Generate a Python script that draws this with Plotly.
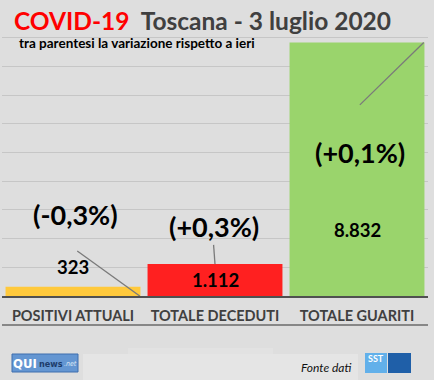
import plotly.graph_objects as go

categories = ["POSITIVI ATTUALI", "TOTALE DECEDUTI", "TOTALE GUARITI"]
values = [323, 1112, 8832]
value_labels = ["323", "1.112", "8.832"]
changes = ["(-0,3%)", "(+0,3%)", "(+0,1%)"]
colors = ["#FFC93C", "#FF2020", "#9AD46C"]

FONT = "Lato"
fig = go.Figure()
fig.add_trace(go.Bar(
    x=list(range(len(categories))), y=values,
    marker=dict(color=colors, line=dict(width=0)),
    width=0.95, hoverinfo="skip", showlegend=False,
))

# value labels (positions relative to the bars)
val_pos = [values[0] + 220, values[1] * 0.5, 2300]
val_anchor = ["bottom", "middle", "middle"]
for i, (lab, yp, ya) in enumerate(zip(value_labels, val_pos, val_anchor)):
    fig.add_annotation(x=i, y=yp, text=f"<b>{lab}</b>", showarrow=False,
                       yanchor=ya, font=dict(family=FONT, size=18.5, color="#000"))

# percent change labels and leader lines
chg_pos = [(0.02, 2830), (0.99, 2410), (2.02, 5000)]
leaders = [((0.03, 1570), (0.47, 0)), ((0.99, 1780), (1.0, values[1])), ((2.02, 6660), (2.47, values[2]))]
for i, (txt, (cx, cy)) in enumerate(zip(changes, chg_pos)):
    fig.add_annotation(x=cx, y=cy, text=f"<b>{txt}</b>", showarrow=False,
                       font=dict(family=FONT, size=27, color="#000"))
for (a, b) in leaders:
    fig.add_shape(type="line", x0=a[0], y0=a[1], x1=b[0], y1=b[1],
                  line=dict(color="#7a7a7a", width=1.3))

def py(pix):
    return (296 - pix) / 287.0

def px(pix):
    return (pix - 2) / 426.0

# titles
fig.add_annotation(xref="paper", yref="paper", x=px(12), y=py(20), xanchor="left", yanchor="middle",
                   text="<b><span style='color:#FF0000'>COVID-19</span>  <span style='color:#404040'>Toscana - 3 luglio 2020</span></b>",
                   showarrow=False, font=dict(family=FONT, size=24.5))
fig.add_annotation(xref="paper", yref="paper", x=px(17), y=py(43), xanchor="left", yanchor="middle",
                   text="<b>tra parentesi la variazione rispetto a ieri</b>",
                   showarrow=False, font=dict(family=FONT, size=13.5, color="#000"))

# line under category labels
fig.add_shape(type="line", xref="paper", yref="paper", x0=0, x1=1, y0=py(325), y1=py(325),
              line=dict(color="#6a6a6a", width=1.5))

# footer decorations
fig.add_shape(type="rect", xref="paper", yref="paper", x0=px(128), x1=px(273),
              y0=py(382), y1=py(348), fillcolor="#e2e2e2", line=dict(width=0), layer="below")
fig.add_shape(type="rect", xref="paper", yref="paper", x0=px(83), x1=px(358),
              y0=py(382), y1=py(354), fillcolor="#e5e5e5", line=dict(width=0), layer="below")
# QUInews logo
fig.add_shape(type="rect", xref="paper", yref="paper", x0=px(12), x1=px(78),
              y0=py(372), y1=py(354), fillcolor="#6496d2", line=dict(color="#3f6fae", width=1))
fig.add_annotation(xref="paper", yref="paper", x=px(12), y=py(363), xanchor="left", yanchor="middle",
                   text="<b>QUI</b>", showarrow=False, borderpad=0,
                   font=dict(family="DejaVu Sans Condensed", size=13, color="#ffffff"))
fig.add_annotation(xref="paper", yref="paper", x=px(38), y=py(364), xanchor="left", yanchor="middle",
                   text="<b>news</b>", showarrow=False, borderpad=0,
                   font=dict(family="DejaVu Sans Condensed", size=9, color="#1d3c6a"))
fig.add_annotation(xref="paper", yref="paper", x=px(63), y=py(364), xanchor="left", yanchor="middle",
                   text="<i>.net</i>", showarrow=False, borderpad=0,
                   font=dict(family="DejaVu Sans Condensed", size=7, color="#dde8f5"))
# Fonte dati
fig.add_annotation(xref="paper", yref="paper", x=px(353), y=py(367), xanchor="right", yanchor="middle",
                   text="<i>Fonte dati</i>", showarrow=False, font=dict(family=FONT, size=12, color="#111"))
# SST logo
fig.add_shape(type="rect", xref="paper", yref="paper", x0=px(365), x1=px(387),
              y0=py(373), y1=py(353), fillcolor="#62b0ea", line=dict(width=0))
fig.add_shape(type="rect", xref="paper", yref="paper", x0=px(388), x1=px(411),
              y0=py(373), y1=py(353), fillcolor="#1f5fa8", line=dict(width=0))
fig.add_annotation(xref="paper", yref="paper", x=px(376), y=py(358), xanchor="center", yanchor="middle",
                   text="<b>SST</b>", showarrow=False, font=dict(family=FONT, size=9, color="#fff"))

fig.update_layout(
    width=434, height=380,
    margin=dict(l=2, r=6, t=9, b=84),
    paper_bgcolor="#dedede", plot_bgcolor="rgba(0,0,0,0)",
    bargap=0.05,
    xaxis=dict(tickmode="array", tickvals=list(range(len(categories))),
               ticktext=[f"<b>{c}</b>" for c in categories],
               range=[-0.5, 2.5], showgrid=False, zeroline=False, showline=True,
               linecolor="#505050", linewidth=2, ticks="", ticklabelstandoff=6,
               tickfont=dict(family=FONT, size=14.5, color="#404040"), fixedrange=True),
    yaxis=dict(range=[0, 10000], dtick=1000, showgrid=True, gridcolor="#c6c6c6", gridwidth=1,
               showticklabels=False, zeroline=False, showline=False, ticks="", fixedrange=True),
    font=dict(family=FONT),
)
fig.write_html("out.html")
